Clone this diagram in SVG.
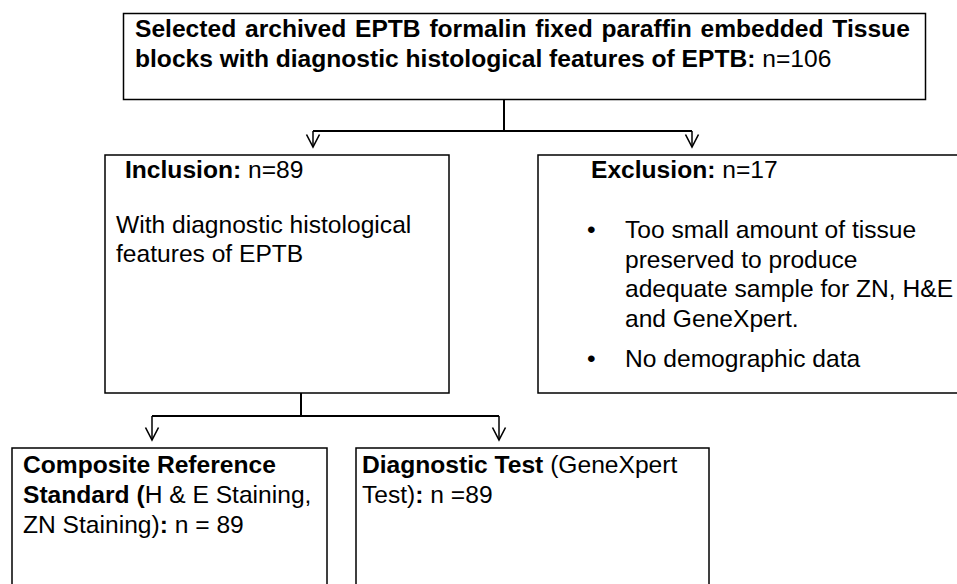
<svg xmlns="http://www.w3.org/2000/svg" width="957" height="584" viewBox="0 0 957 584">
  <style>
    .box { fill: #ffffff; stroke: #000000; stroke-width: 1.5; }
    .txt { font-family: "Liberation Sans", Arial, sans-serif; font-size: 24.6px; fill: #000000; }
    .b { font-weight: bold; }
    .link { fill: none; stroke: #000000; stroke-width: 2; }
    .arrow { fill: none; stroke: #000000; stroke-width: 1.5; marker-end: url(#vee); }
  </style>
  <defs>
    <marker id="vee" markerUnits="userSpaceOnUse" orient="auto" overflow="visible" markerWidth="1" markerHeight="1" refX="0" refY="0">
      <path d="M-12.5,-6.5 L0,0 L-12.5,6.5" fill="none" stroke="#000000" stroke-width="1.6"/>
    </marker>
  </defs>

  <rect width="957" height="584" fill="#ffffff"/>

  <!-- connectors -->
  <g id="connectors">
    <path class="link" d="M504,99 V131 M313,131 H692"/>
    <path class="arrow" d="M313,131 V147"/>
    <path class="arrow" d="M692,131 V147"/>
    <path class="link" d="M301,393 V416 M152,416 H499"/>
    <path class="arrow" d="M152,416 V440"/>
    <path class="arrow" d="M499,416 V440"/>
  </g>

  <!-- source blocks -->
  <g id="selected">
    <rect class="box" x="123.5" y="13.5" width="802" height="86"/>
    <text class="txt b" x="135" y="37" word-spacing="2">Selected archived EPTB formalin fixed paraffin embedded Tissue</text>
    <text class="txt" x="135" y="67"><tspan class="b">blocks with diagnostic histological features of EPTB:</tspan> n=106</text>
  </g>

  <g id="inclusion">
    <rect class="box" x="105" y="155" width="344" height="238"/>
    <text class="txt" x="125" y="178"><tspan class="b">Inclusion:</tspan> n=89</text>
    <text class="txt" x="116" y="233">With diagnostic histological</text>
    <text class="txt" x="116" y="262">features of EPTB</text>
  </g>

  <g id="exclusion">
    <rect class="box" x="538" y="155" width="440" height="238"/>
    <text class="txt" x="591" y="178"><tspan class="b">Exclusion:</tspan> n=17</text>
    <text class="txt" x="587" y="238">•</text>
    <text class="txt" x="625" y="238">Too small amount of tissue</text>
    <text class="txt" x="625" y="268">preserved to produce</text>
    <text class="txt" x="625" y="297">adequate sample for ZN, H&amp;E</text>
    <text class="txt" x="625" y="327">and GeneXpert.</text>
    <text class="txt" x="587" y="367">•</text>
    <text class="txt" x="625" y="367">No demographic data</text>
  </g>

  <g id="reference-standard">
    <rect class="box" x="12" y="448" width="315" height="160"/>
    <text class="txt b" x="23" y="473">Composite Reference</text>
    <text class="txt" x="23" y="503"><tspan class="b">Standard (</tspan>H &amp; E Staining,</text>
    <text class="txt" x="23" y="533">ZN Staining)<tspan class="b">:</tspan> n = 89</text>
  </g>

  <g id="diagnostic-test">
    <rect class="box" x="356" y="448" width="353" height="160"/>
    <text class="txt" x="362" y="473"><tspan class="b">Diagnostic Test</tspan> (GeneXpert</text>
    <text class="txt" x="362" y="503">Test)<tspan class="b">:</tspan> n =89</text>
  </g>
</svg>
